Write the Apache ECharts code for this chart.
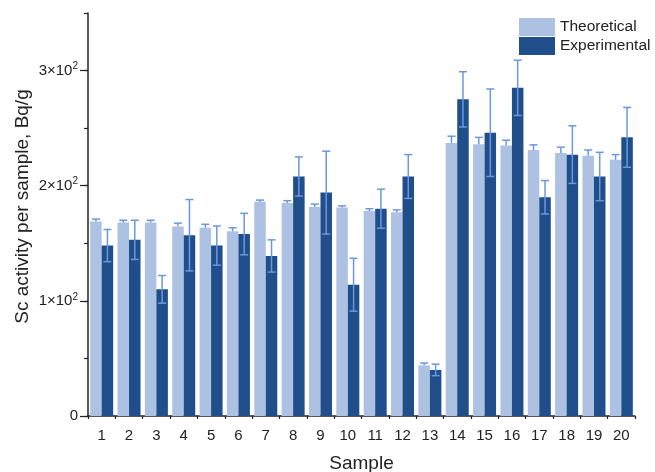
<!DOCTYPE html>
<html>
<head>
<meta charset="utf-8">
<script src="https://cdn.jsdelivr.net/npm/echarts@6/dist/echarts.min.js"></script>
<style>html,body{margin:0;padding:0;background:#fff}#c{width:655px;height:472px}</style>
</head>
<body>
<div id="c"></div>
<script>
const categories = ['1','2','3','4','5','6','7','8','9','10','11','12','13','14','15','16','17','18','19','20'];
const theoretical = [169,168,168,164.5,163.5,160.5,186,185,181.5,181,178,177,44,237,236,235,231,228.5,226,222.5];
const theoreticalErr = [2,2,2,3,3,3,1.5,2,2.5,1.5,2,2,2,6,6,4.5,4.5,5,5,4.5];
const experimental = [148,153,110,157,148,158,139,208,194,114,180,208,40,275,246,285,190,227,208,242];
const experimentalErr = [14,17,12,31,17,18,14,17,36,23,17,19,5,24,38,24,14.5,25,21,26];
const yMajorTicks = [0,100,200,300];

const BW = 11.5;
const LIGHT = '#adc1e3';
const DARK = '#1f4e8b';
const ERR = '#6b98dc';
const FONT = 'Liberation Sans, Arial, sans-serif';

function errSeries(vals, errs, offset, both) {
  return {
    type: 'custom',
    xAxisIndex: 0,
    z: 5,
    silent: true,
    data: vals.map((v, i) => [i, v, errs[i]]),
    renderItem: function (params, api) {
      const i = api.value(0), v = api.value(1), e = api.value(2);
      const top = api.coord([i, v + e]);
      const bot = api.coord([i, both ? v - e : v]);
      const x = top[0] + offset;
      const cap = 4;
      const children = [
        {type: 'line', shape: {x1: x, y1: top[1], x2: x, y2: bot[1]}, style: {stroke: ERR, lineWidth: 1.5}},
        {type: 'line', shape: {x1: x - cap, y1: top[1], x2: x + cap, y2: top[1]}, style: {stroke: ERR, lineWidth: 1.5}}
      ];
      if (both) children.push({type: 'line', shape: {x1: x - cap, y1: bot[1], x2: x + cap, y2: bot[1]}, style: {stroke: ERR, lineWidth: 1.5}});
      return {type: 'group', children: children};
    }
  };
}

const chart = echarts.init(document.getElementById('c'), null, {renderer: 'canvas'});
chart.setOption({
  animation: false,
  textStyle: {fontFamily: FONT},
  grid: {left: 88, right: 20, top: 13, bottom: 56, containLabel: false, outerBoundsMode: 'none'},
  legend: {
    left: 519, top: 18, orient: 'vertical', itemWidth: 36, itemHeight: 18, itemGap: 1, padding: 0,
    textStyle: {fontSize: 15.5, color: '#222', fontFamily: FONT},
    data: [{name: 'Theoretical', icon: 'rect'}, {name: 'Experimental', icon: 'rect'}]
  },
  xAxis: [{
    type: 'category', data: categories,
    name: 'Sample', nameLocation: 'middle', nameGap: 38, nameMoveOverlap: false,
    nameTextStyle: {fontSize: 19, color: '#222', fontFamily: FONT},
    axisLine: {lineStyle: {color: '#222', width: 1.5}},
    axisTick: {alignWithLabel: true, length: 7, lineStyle: {color: '#222', width: 1.2}},
    axisLabel: {fontSize: 15, color: '#222', margin: 12, fontFamily: FONT}
  }, {
    type: 'category', data: categories, position: 'bottom',
    axisLine: {show: false},
    axisTick: {show: true, length: 3, lineStyle: {color: '#222', width: 1.2}},
    axisLabel: {show: false}
  }],
  yAxis: [{
    type: 'value', min: 0, max: 350, interval: 50,
    name: 'Sc activity per sample, Bq/g', nameLocation: 'middle', nameGap: 56, nameMoveOverlap: false,
    nameTextStyle: {fontSize: 19, color: '#222', fontFamily: FONT, padding: [0, 0, 0, 16]},
    axisLine: {show: true, lineStyle: {color: '#222', width: 1.5}},
    axisTick: {show: true, length: 4, lineStyle: {color: '#222', width: 1.2}},
    splitLine: {show: false},
    axisLabel: {
      fontSize: 15, color: '#222', margin: 10, fontFamily: FONT,
      formatter: function (v) {
        if (v === 0) return '0';
        if (v % 100 !== 0) return '';
        return '{m|' + (v / 100) + '×10}{s|2}';
      },
      rich: {
        m: {fontSize: 15, color: '#222', fontFamily: FONT, lineHeight: 18},
        s: {fontSize: 10, color: '#222', fontFamily: FONT, verticalAlign: 'top', lineHeight: 18, padding: [0, 0, 10, 0]}
      }
    }
  }, {
    type: 'value', min: 0, max: 350, position: 'left', offset: 0,
    axisLine: {show: false},
    axisTick: {show: true, length: 8, customValues: yMajorTicks, lineStyle: {color: '#222', width: 1.2}},
    axisLabel: {show: false},
    splitLine: {show: false}
  }],
  series: [{
    name: 'Theoretical', type: 'bar', data: theoretical, barWidth: BW, barGap: '0%',
    itemStyle: {color: LIGHT}
  }, {
    name: 'Experimental', type: 'bar', data: experimental, barWidth: BW, barGap: '0%',
    itemStyle: {color: DARK}
  },
  errSeries(theoretical, theoreticalErr, -BW / 2, false),
  errSeries(experimental, experimentalErr, BW / 2, true)
  ]
});
</script>
</body>
</html>
